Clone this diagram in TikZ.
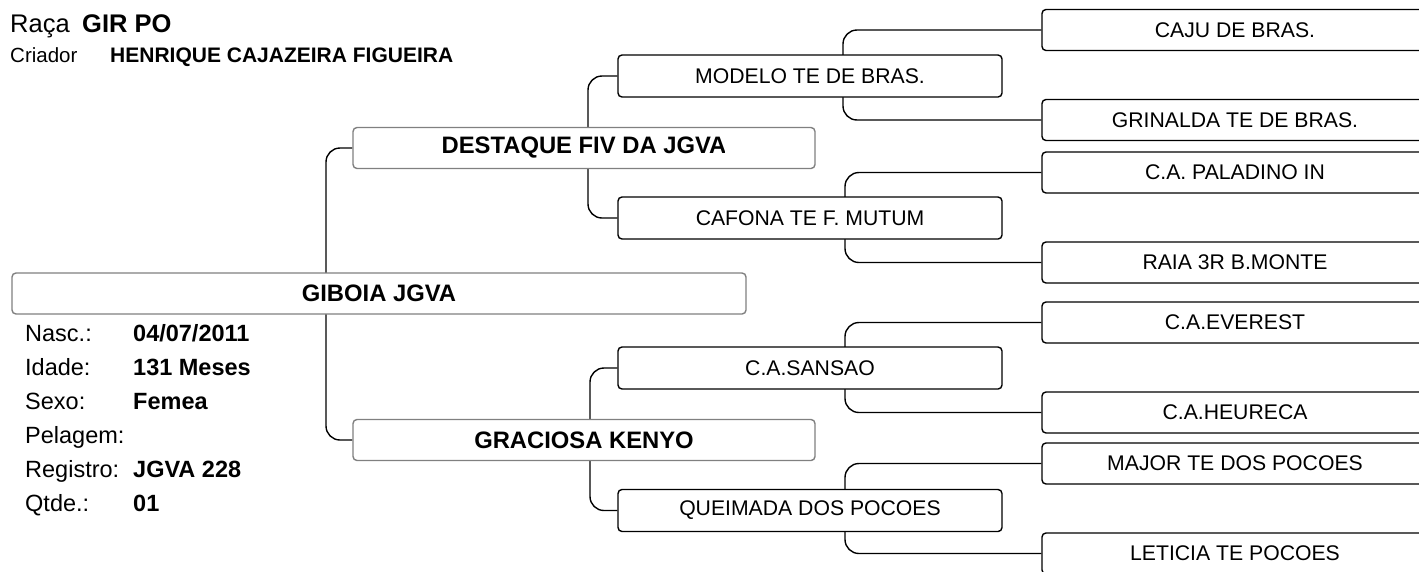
\documentclass[tikz,border=0pt]{standalone}
\usepackage{fontspec}
\setmainfont{Liberation Sans}
\usetikzlibrary{backgrounds}
\begin{document}
\begin{tikzpicture}[x=1pt,y=-1pt,
  gbox/.style={draw=black!50, line width=1.4pt, rounded corners=4pt, fill=white,
    inner sep=0pt, minimum height=41pt, font=\bfseries\fontsize{23.8}{27}\selectfont},
  bbox/.style={draw=black, line width=1.4pt, rounded corners=4pt, fill=white,
    inner sep=0pt, minimum height=41pt, font=\fontsize{21.2}{25}\selectfont},
  gtext/.style={inner sep=0pt, font=\bfseries\fontsize{23.8}{27}\selectfont},
  btext/.style={inner sep=0pt, font=\fontsize{21.2}{25}\selectfont},
  conn/.style={draw=black, line width=1.4pt, rounded corners=14pt},
  lbl/.style={anchor=base west, inner sep=0pt, font=\fontsize{23.5}{27}\selectfont},
  val/.style={anchor=base west, inner sep=0pt, font=\bfseries\fontsize{23.5}{27}\selectfont}]
\useasboundingbox (0,0) rectangle (1419,571);
\clip (0,0) rectangle (1419,571);

% header
\node[anchor=base west, inner sep=0pt, font=\fontsize{25.5}{29}\selectfont] (raca) at (10,32) {Raça};
\node[anchor=base west, inner sep=0pt, font=\bfseries\fontsize{25.5}{29}\selectfont] (racav) at (82,32) {GIR PO};
\node[anchor=base west, inner sep=0pt, font=\fontsize{20.5}{24}\selectfont] (criador) at (10,62) {Criador};
\node[anchor=base west, inner sep=0pt, font=\bfseries\fontsize{21}{24}\selectfont] (criadorv) at (110,62) {HENRIQUE CAJAZEIRA FIGUEIRA};

% info
\node[lbl] (l1) at (25,341) {Nasc.:};     \node[val] (v1) at (133,341) {04/07/2011};
\node[lbl] (l2) at (25,375) {Idade:};     \node[val] (v2) at (133,375) {131 Meses};
\node[lbl] (l3) at (25,409) {Sexo:};      \node[val] (v3) at (133,409) {Femea};
\node[lbl] (l4) at (25,443) {Pelagem:};
\node[lbl] (l5) at (25,477) {Registro:};  \node[val] (v5) at (133,477) {JGVA 228};
\node[lbl] (l6) at (25,511) {Qtde.:};     \node[val] (v6) at (133,511) {01};

% generation 1
\node[gbox, minimum width=734pt] (giboia) at (379,293.5) {};
% generation 2
\node[gbox, minimum width=462pt] (destaque) at (584,148) {};
\node[gbox, minimum width=462pt] (graciosa) at (584,440) {GRACIOSA KENYO};
% generation 3
\node[bbox, minimum width=384pt, minimum height=42pt] (modelo) at (810,76) {MODELO TE DE BRAS.};
\node[bbox, minimum width=384pt, minimum height=42pt] (cafona) at (810,218) {};
\node[bbox, minimum width=384pt, minimum height=42pt] (sansao) at (810,368) {C.A.SANSAO};
\node[bbox, minimum width=384pt, minimum height=42pt] (queimada) at (810,510.5) {QUEIMADA DOS POCOES};
% generation 4
\node[bbox, minimum width=386pt] (caju) at (1235,30) {CAJU DE BRAS.};
\node[bbox, minimum width=386pt] (grinalda) at (1235,120) {GRINALDA TE DE BRAS.};
\node[bbox, minimum width=386pt] (paladino) at (1235,172.5) {C.A. PALADINO IN};
\node[bbox, minimum width=386pt] (raia) at (1235,262.5) {RAIA 3R B.MONTE};
\node[bbox, minimum width=386pt] (everest) at (1235,322.5) {C.A.EVEREST};
\node[bbox, minimum width=386pt] (heureca) at (1235,412.5) {C.A.HEURECA};
\node[bbox, minimum width=386pt] (major) at (1235,463.5) {MAJOR TE DOS POCOES};
\node[bbox, minimum width=386pt] (leticia) at (1235,553.5) {LETICIA TE POCOES};

% texts cut at the right edge of their field
\begin{scope}
  \clip (giboia.north west) rectangle (455,314);
  \node[gtext] (giboiat) at (giboia.center) {GIBOIA JGVA};
\end{scope}
\begin{scope}
  \clip (destaque.north west) rectangle (724,169);
  \node[gtext] (destaquet) at (destaque.center) {DESTAQUE FIV DA JGVA};
\end{scope}
\begin{scope}
  \clip (cafona.north west) rectangle (922,239);
  \node[btext] (cafonat) at (cafona.center) {CAFONA TE F. MUTUM};
\end{scope}

% junction points
\coordinate (j0) at (326,293);
\coordinate (j1) at (588,148);
\coordinate (j2) at (590,440);
\coordinate (j3) at (843,76);
\coordinate (j4) at (845,218);
\coordinate (j5) at (845,368);
\coordinate (j6) at (845,510);

\begin{scope}[on background layer]
\draw[conn] (destaque.west) -| (j0) |- (graciosa.west);
\draw[conn] (modelo.west) -| (j1) |- (cafona.west);
\draw[conn] (sansao.west) -| (j2) |- (queimada.west);
\draw[conn] (caju.west) -| (j3) |- (grinalda.west);
\draw[conn] (paladino.west) -| (j4) |- (raia.west);
\draw[conn] (everest.west) -| (j5) |- (heureca.west);
\draw[conn] (major.west) -| (j6) |- (leticia.west);
\end{scope}
\end{tikzpicture}
\end{document}
